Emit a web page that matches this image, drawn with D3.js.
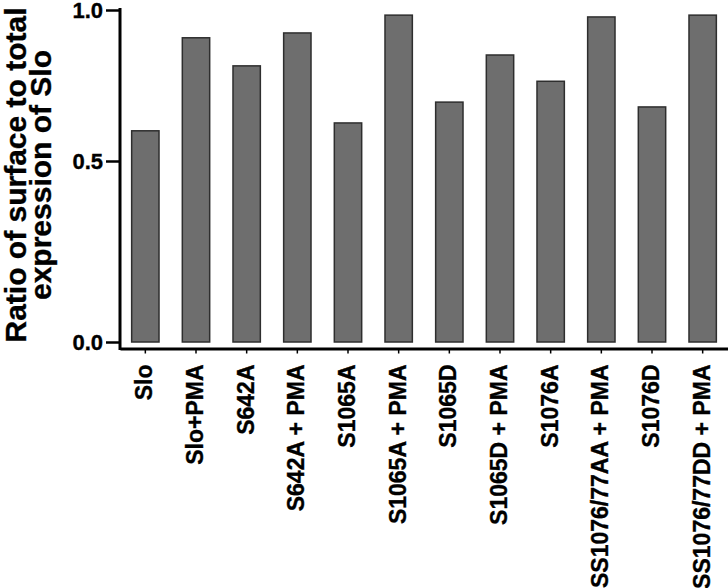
<!DOCTYPE html>
<html>
<head>
<meta charset="utf-8">
<script src="https://cdn.jsdelivr.net/npm/d3@7"></script>
<style>
  html, body { margin: 0; padding: 0; background: #fff; }
  svg { display: block; }
  text { font-family: "Liberation Sans", Arial, Helvetica, sans-serif; font-weight: bold; fill: #000; stroke: #000; stroke-width: 0.35px; }
</style>
</head>
<body>
<svg id="chart" width="728" height="588"></svg>
<script>
const categories = ["Slo", "Slo+PMA", "S642A", "S642A + PMA", "S1065A", "S1065A + PMA",
  "S1065D", "S1065D + PMA", "S1076A", "SS1076/77AA + PMA", "S1076D", "SS1076/77DD + PMA"];
const values = [0.600, 0.908, 0.815, 0.924, 0.626, 0.983, 0.695, 0.851, 0.764, 0.977, 0.679, 0.983];
const yTicks = [0, 0.5, 1.0];
const yTitle = ["Ratio of surface to total", "expression of Slo"];

const svg = d3.select("#chart");

const x = d3.scaleBand().domain(categories).range([120, 728]).paddingInner(0.46).paddingOuter(0.23);
const y = d3.scaleLinear().domain([0, 0.5, 1.0]).range([342, 161, 10]);

// bars
svg.append("g").selectAll("rect").data(values).join("rect")
  .attr("x", (d, i) => x(categories[i]))
  .attr("y", d => y(d))
  .attr("width", x.bandwidth())
  .attr("height", d => y(0) - y(d))
  .attr("fill", "#6e6e6e")
  .attr("stroke", "#2e2e2e")
  .attr("stroke-width", 1.5);

// y axis
const yAxis = svg.append("g").attr("transform", "translate(120,0)")
  .call(d3.axisLeft(y).tickValues(yTicks).tickFormat(d3.format(".1f")).tickSize(14).tickSizeOuter(0).tickPadding(3));
yAxis.select(".domain").remove();
yAxis.selectAll(".tick line").attr("stroke", "#000").attr("stroke-width", 2.5);
yAxis.selectAll(".tick text").style("font-size", "22px").attr("dy", "0.36em");
svg.append("line").attr("x1", 120).attr("x2", 120).attr("y1", y(1.0) - 2).attr("y2", 350)
  .attr("stroke", "#000").attr("stroke-width", 3);

// x axis
const xAxis = svg.append("g").attr("transform", "translate(0,348.5)")
  .call(d3.axisBottom(x).tickSize(5).tickSizeOuter(0));
xAxis.select(".domain").attr("stroke", "#000").attr("stroke-width", 3);
xAxis.selectAll(".tick line").attr("stroke", "#000").attr("stroke-width", 1.5);
xAxis.selectAll(".tick text")
  .style("font-size", "23px")
  .attr("text-anchor", "end")
  .attr("transform", "rotate(-90)")
  .attr("x", -16)
  .attr("y", 7)
  .attr("dy", 0);

// y title
yTitle.forEach((t, i) => {
  svg.append("text")
    .attr("transform", `translate(${i === 0 ? 26 : 51},175) rotate(-90)`)
    .attr("text-anchor", "middle")
    .style("font-size", "30px")
    .text(t);
});
</script>
</body>
</html>
